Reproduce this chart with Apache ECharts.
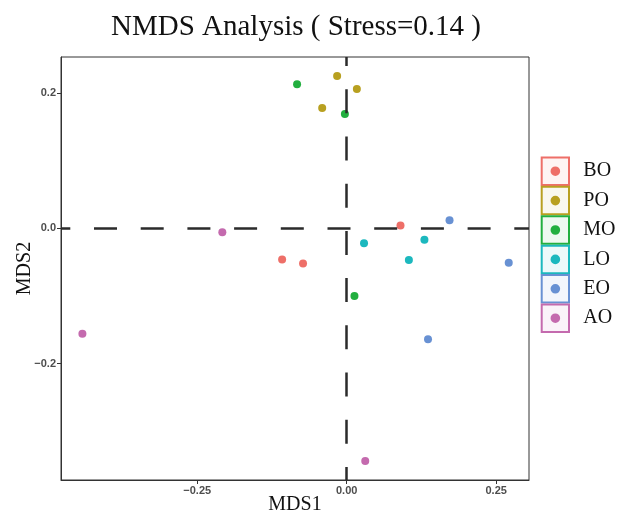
<!DOCTYPE html>
<html>
<head>
<meta charset="utf-8">
<script src="https://cdn.jsdelivr.net/npm/echarts@6/dist/echarts.min.js"></script>
<style>html,body{margin:0;padding:0;background:#fff}#c{width:619px;height:513px}</style>
</head>
<body>
<div id="c"></div>
<script>
// ---- data ----
const groups = ['BO', 'PO', 'MO', 'LO', 'EO', 'AO'];
const groupColors = ['#EE6F68', '#B8A020', '#22AF3F', '#1CB8BE', '#6891D3', '#C46AAE'];
const BO = [[-0.108, -0.046], [-0.073, -0.052], [0.090, 0.004]];
const PO = [[-0.016, 0.225], [0.017, 0.206], [-0.041, 0.178]];
const MO = [[-0.083, 0.213], [-0.003, 0.169], [0.013, -0.100]];
const LO = [[0.029, -0.022], [0.130, -0.017], [0.104, -0.047]];
const EO = [[0.172, 0.012], [0.271, -0.051], [0.136, -0.164]];
const AO = [[-0.208, -0.006], [-0.442, -0.156], [0.031, -0.344]];
const groupData = [BO, PO, MO, LO, EO, AO];
const xTicks = [-0.25, 0, 0.25];
const yTicks = [-0.2, 0, 0.2];
const titleText = 'NMDS Analysis ( Stress=0.14 )';

// ---- chart ----
const chart = echarts.init(document.getElementById('c'), null, {renderer: 'canvas'});
const serif = '"Liberation Serif", "Times New Roman", serif';
const sans = '"Liberation Sans", Arial, sans-serif';
const fmt = (v, d) => (v < 0 ? '\u2212' : '') + Math.abs(v).toFixed(d);

const series = groups.map((g, i) => ({
  name: g,
  type: 'scatter',
  data: groupData[i],
  symbolSize: 8,
  itemStyle: {color: groupColors[i], opacity: 1},
  z: 2
}));
series.push({
  name: 'ref',
  type: 'scatter',
  data: [],
  z: 3,
  markLine: {
    silent: true,
    symbol: 'none',
    label: {show: false},
    animation: false,
    data: [
      {yAxis: 0, lineStyle: {type: [23, 23.7], dashOffset: 13.7, color: '#2b2b2b', width: 2.5}},
      {xAxis: 0, lineStyle: {type: [24, 23.2], dashOffset: 10.9, color: '#2b2b2b', width: 2.5}}
    ]
  }
});

// legend drawn as graphic boxes
const graphic = [];
const boxX = 541.7, boxW = 27.3, boxH = 27.5, boxY0 = 171.2, pitch = 29.4;
groups.forEach((g, i) => {
  const cy = boxY0 + i * pitch;
  const c = echarts.color.modifyAlpha(groupColors[i], 0.08);
  graphic.push({
    type: 'rect', shape: {x: boxX, y: cy - boxH / 2, width: boxW, height: boxH},
    style: {fill: c, stroke: groupColors[i], lineWidth: 2}
  });
  graphic.push({
    type: 'circle', shape: {cx: boxX + boxW / 2, cy: cy, r: 4.8},
    style: {fill: groupColors[i]}
  });
  graphic.push({
    type: 'text', x: 583.3, y: cy,
    style: {text: g, font: '20px ' + serif, fill: '#111', verticalAlign: 'middle', align: 'left'}
  });
});

chart.setOption({
  animation: false,
  backgroundColor: '#fff',
  title: {
    text: titleText,
    left: 296, top: 13, padding: 0, textAlign: 'center',
    textStyle: {fontFamily: serif, fontSize: 29, fontWeight: 'normal', color: '#111'}
  },
  grid: {left: 61, top: 57, right: 90, bottom: 33, show: true, borderColor: '#333', borderWidth: 1,
         containLabel: false, outerBoundsMode: 'none'},
  xAxis: {
    type: 'value', min: -0.4778, max: 0.3049,
    name: 'MDS1', nameLocation: 'middle', nameGap: 15, nameMoveOverlap: false,
    nameTextStyle: {fontFamily: serif, fontSize: 20, color: '#111'},
    axisLine: {show: true, onZero: false, lineStyle: {color: '#333', width: 1}},
    axisTick: {show: true, length: 4, customValues: xTicks, lineStyle: {color: '#333'}},
    axisLabel: {customValues: xTicks, formatter: v => fmt(v, 2), fontFamily: sans, fontSize: 11, fontWeight: 'bold', color: '#4D4D4D', margin: 5},
    splitLine: {show: false}
  },
  yAxis: {
    type: 'value', min: -0.372, max: 0.2532,
    name: 'MDS2', nameLocation: 'middle', nameGap: 26, nameRotate: 90, nameMoveOverlap: false,
    nameTextStyle: {fontFamily: serif, fontSize: 20, color: '#111'},
    axisLine: {show: true, onZero: false, lineStyle: {color: '#333', width: 1}},
    axisTick: {show: true, length: 4, customValues: yTicks, lineStyle: {color: '#333'}},
    axisLabel: {customValues: yTicks, formatter: v => fmt(v, 1), fontFamily: sans, fontSize: 11, fontWeight: 'bold', color: '#4D4D4D', margin: 5},
    splitLine: {show: false}
  },
  graphic: graphic,
  series: series
});
</script>
</body>
</html>
